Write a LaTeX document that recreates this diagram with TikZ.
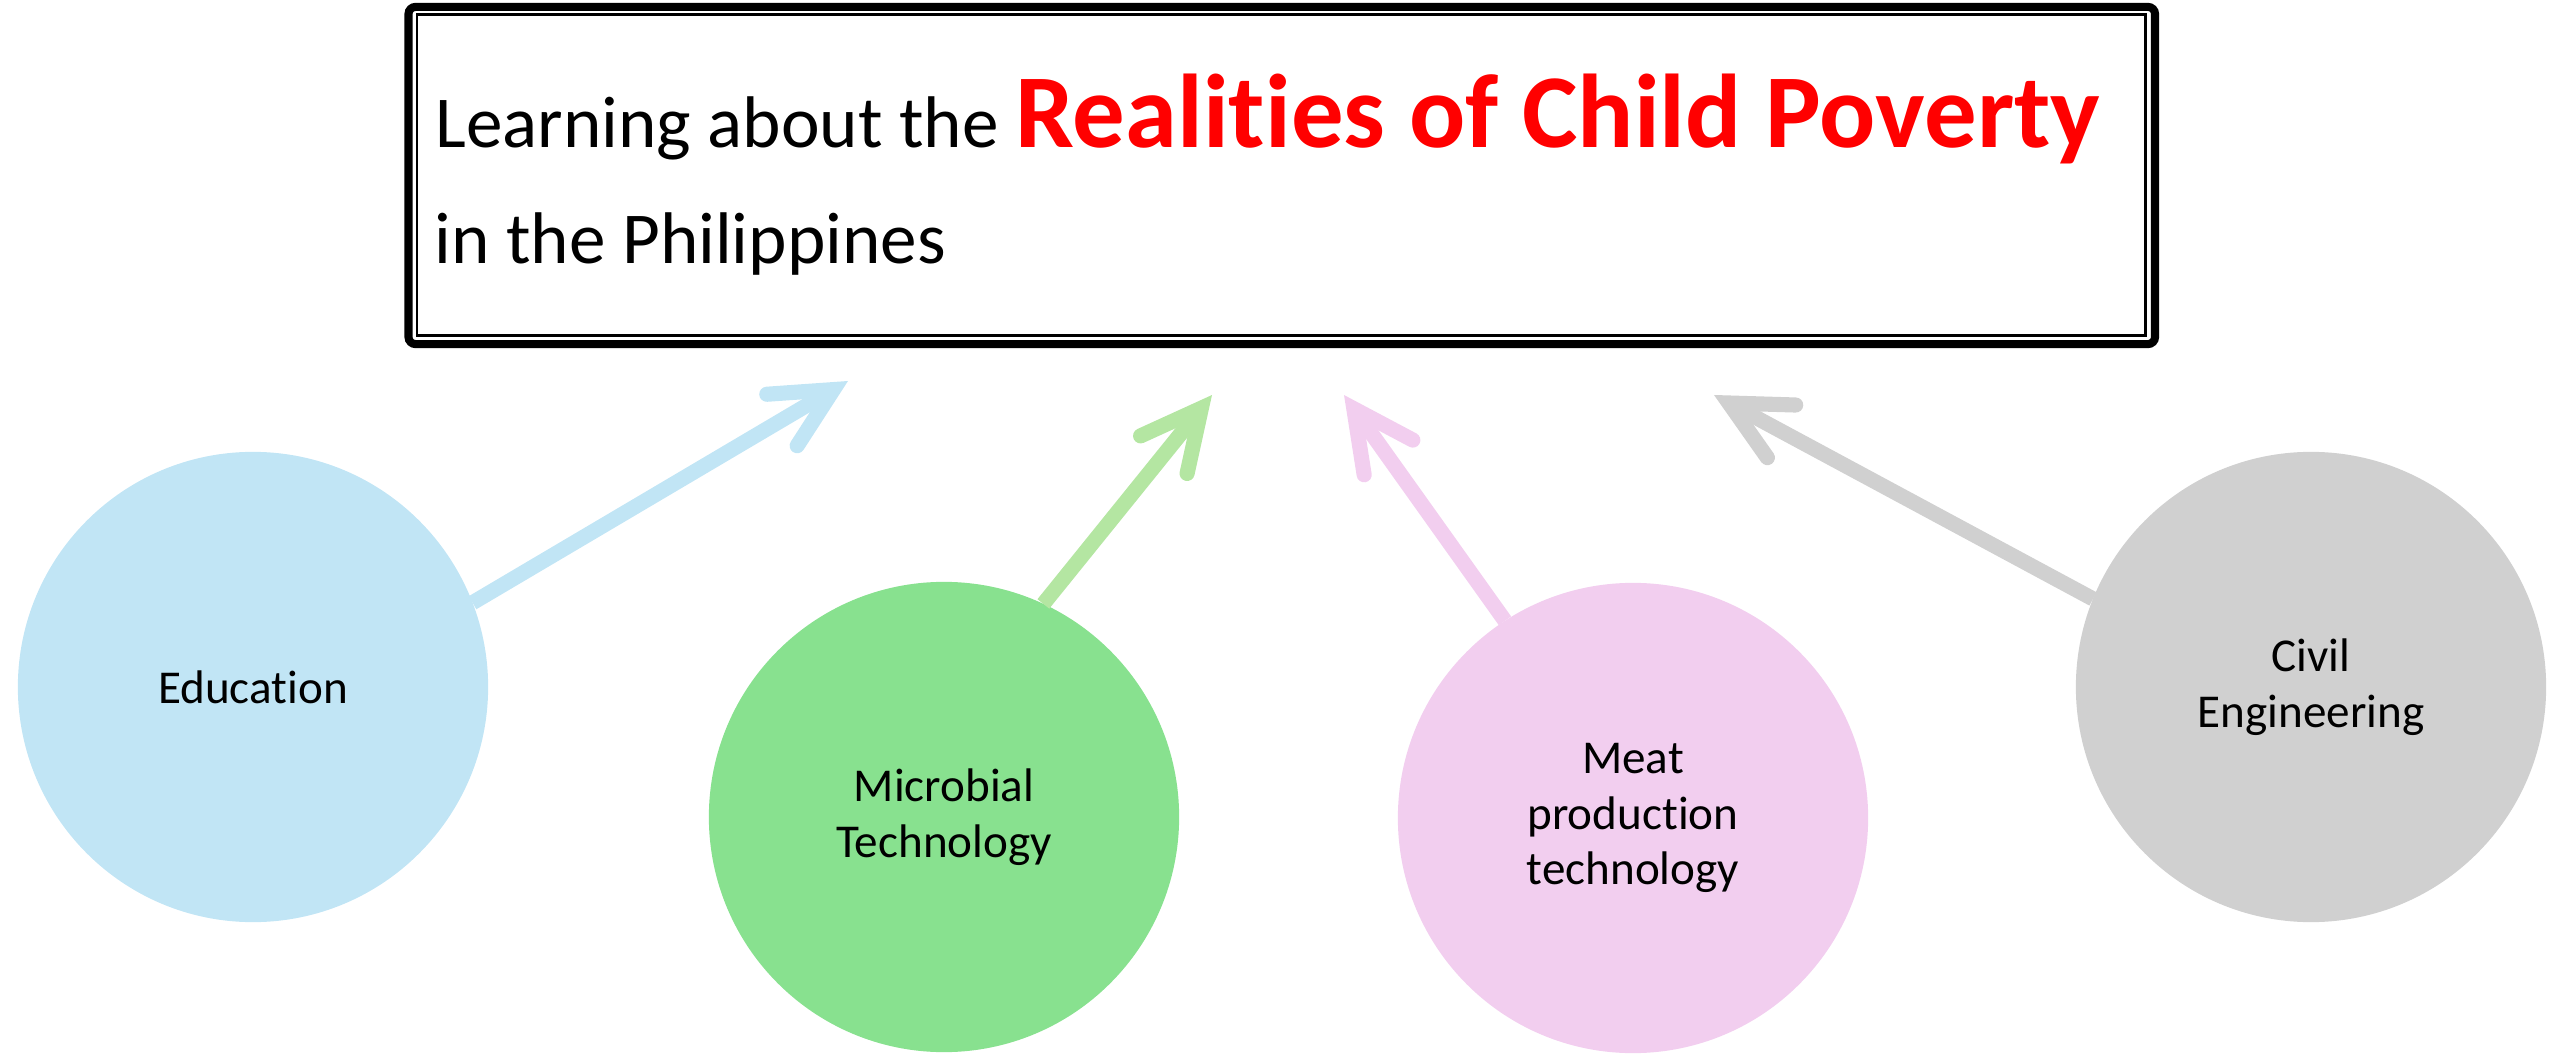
\documentclass[tikz,border=0pt]{standalone}
\usepackage{fontspec}
\setmainfont{Carlito}[Ligatures=NoCommon]
\usepackage{tikz}
\usetikzlibrary{calc,arrows.meta}

\definecolor{eduBlue}{HTML}{C1E5F5}
\definecolor{microGreen}{HTML}{88E18F}
\definecolor{microArrow}{HTML}{B4E6A2}
\definecolor{meatPink}{HTML}{F2CEEF}
\definecolor{civilGray}{HTML}{D0D0D0}

\tikzset{
	bubble/.style={circle, minimum size=4.7cm, inner sep=0pt, outer sep=0pt, align=center, font=\fontsize{13.4}{15.9}\selectfont},
	pointer/.style={line width=4.3pt, -{Straight Barb[length=17pt, width=17pt, line cap=round, line join=miter]}}
}

\begin{document}
\begin{tikzpicture}[x=0.01cm, y=-0.01cm]
			%%%%% START %%%%%
			
			\useasboundingbox (0, 0) rectangle (2560, 1055);
			
			% title frame
			\node[draw, line width=2.3pt, rounded corners=2pt, minimum width=17.455cm, minimum height=3.37cm, inner sep=0pt, outer sep=0pt] (frame) at (1281.75, 175.5) {};
			\draw[line width=0.8pt] ($(frame.north west)+(8.5, 8)$) rectangle ($(frame.south east)+(-9.5, -8.5)$);
			
			\node[anchor=base west, inner sep=0pt, font=\fontsize{20.8}{25}\selectfont] (lineOne) at (435, 148) {Learning about the \textcolor{red}{\bfseries\fontsize{29.8}{35}\selectfont Realities of Child Poverty}};
			\node[anchor=base west, inner sep=0pt, font=\fontsize{20.8}{25}\selectfont] (lineTwo) at (434, 264) {in the Philippines};
			
			% circles
			\node[bubble, fill=eduBlue] (edu) at (253, 687) {Education};
			\node[bubble, fill=microGreen] (micro) at (944, 817) {Microbial\\Technology};
			\node[bubble, fill=meatPink] (meat) at (1633, 818) {Meat\\production\\technology};
			\node[bubble, fill=civilGray] (civil) at (2311, 687) {Civil\\Engineering};
			
			% arrow tips
			\coordinate (eduTip) at (848, 381);
			\coordinate (microTip) at (1212, 395);
			\coordinate (meatTip) at (1344, 395);
			\coordinate (civilTip) at (1714, 395);
			
			\draw[pointer, color=eduBlue] (edu.21) -- (eduTip);
			\draw[pointer, color=microArrow] (micro.65.6) -- (microTip);
			\draw[pointer, color=meatPink] (meat.123.9) -- (meatTip);
			\draw[pointer, color=civilGray] (civil.158.3) -- (civilTip);
			
			%%%%% END %%%%%
\end{tikzpicture}
\end{document}
